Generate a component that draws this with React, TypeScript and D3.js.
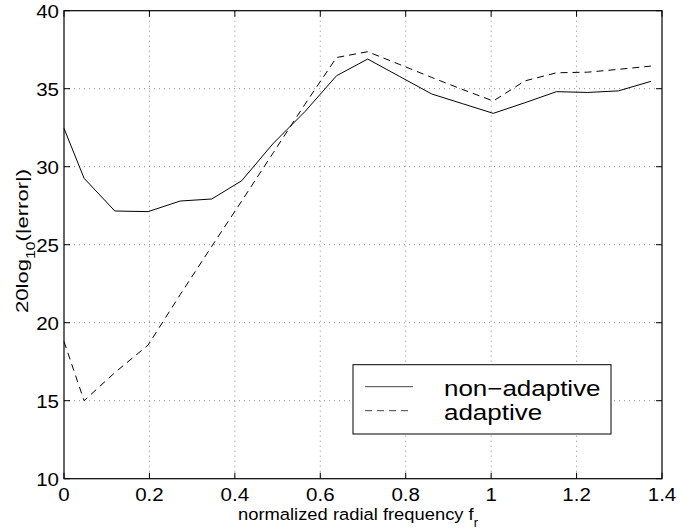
import React from "react";
import * as d3 from "d3";

const freqs = [0, 0.047, 0.119, 0.197, 0.272, 0.346, 0.416, 0.49, 0.564, 0.638, 0.711, 0.786, 0.861, 0.933, 1.005, 1.079, 1.153, 1.226, 1.298, 1.374];
const nonAdaptive = [32.46, 29.26, 27.16, 27.12, 27.8, 27.93, 29.1, 31.5, 33.53, 35.83, 36.9, 35.78, 34.66, 34.04, 33.42, 34.1, 34.81, 34.76, 34.86, 35.47];
const adaptive = [18.8, 15.0, 16.8, 18.57, 21.8, 24.9, 27.8, 30.9, 34.0, 37.0, 37.37, 36.55, 35.72, 34.95, 34.21, 35.5, 36.02, 36.06, 36.24, 36.45];
const xTicks = [0, 0.2, 0.4, 0.6, 0.8, 1, 1.2, 1.4];
const yTicks = [10, 15, 20, 25, 30, 35, 40];
const seriesNames = ["non\u2212adaptive", "adaptive"];

const W = 696, H = 529;
const L = 64, R = 662, T = 10.7, B = 478.7;
const FONT = "'Liberation Sans', Arial, Helvetica, sans-serif";
const SX = 1.08;

export default function App() {
  const x = d3.scaleLinear().domain([0, 1.4]).range([L, R]);
  const y = d3.scaleLinear().domain([10, 40]).range([B, T]);
  const line = d3.line<number>().x((_, i) => x(freqs[i])).y((d) => y(d));
  const tick = 6;
  const gridColor = "#8a8a8a";

  return (
    <svg width={W} height={H} style={{ position: "absolute", left: 0, top: 0, background: "#fff" }} fontFamily={FONT}>
      <rect x={0} y={0} width={W} height={H} fill="#fff" />
      {/* grid */}
      {xTicks.slice(1, -1).map((t) => (
        <line key={"gx" + t} x1={x(t)} x2={x(t)} y1={T} y2={B} stroke={gridColor} strokeWidth={1} strokeDasharray="1,4" />
      ))}
      {yTicks.slice(1, -1).map((t) => (
        <line key={"gy" + t} x1={L} x2={R} y1={y(t)} y2={y(t)} stroke={gridColor} strokeWidth={1} strokeDasharray="1,4" />
      ))}
      {/* data */}
      <path d={line(nonAdaptive) || ""} fill="none" stroke="#000" strokeWidth={1} />
      <path d={line(adaptive) || ""} fill="none" stroke="#000" strokeWidth={1} strokeDasharray="7,5" />
      {/* box */}
      <rect x={L} y={T} width={R - L} height={B - T} fill="none" stroke="#000" strokeWidth={1.2} />
      {/* ticks */}
      {xTicks.map((t) => (
        <g key={"tx" + t}>
          <line x1={x(t)} x2={x(t)} y1={B} y2={B - tick} stroke="#000" />
          <line x1={x(t)} x2={x(t)} y1={T} y2={T + tick} stroke="#000" />
          <text transform={`translate(${x(t)},${500.5}) scale(${SX},1)`} textAnchor="middle" fontSize={19} fill="#000">
            {String(t)}
          </text>
        </g>
      ))}
      {yTicks.map((t) => (
        <g key={"ty" + t}>
          <line x1={L} x2={L + tick} y1={y(t)} y2={y(t)} stroke="#000" />
          <line x1={R} x2={R - tick} y1={y(t)} y2={y(t)} stroke="#000" />
          <text transform={`translate(${59},${y(t) + 7}) scale(${SX},1)`} textAnchor="end" fontSize={19} fill="#000">
            {String(t)}
          </text>
        </g>
      ))}
      {/* x label */}
      <text transform={`translate(${(L + R) / 2 - 5},${520}) scale(${SX},1)`} textAnchor="middle" fontSize={17} fill="#000">
        normalized radial frequency f
        <tspan fontSize={12} dy={7}>r</tspan>
      </text>
      {/* y label */}
      <g transform="translate(28,313) rotate(-90) scale(1.3,1)">
        <text x={0} y={0} fontSize={17} fill="#000">
          20log
          <tspan fontSize={12} dy={7}>10</tspan>
          <tspan dy={-7} fontSize={17}>(|error|)</tspan>
        </text>
      </g>
      {/* legend */}
      <rect x={353} y={364.7} width={258} height={69.3} fill="#fff" stroke="#000" strokeWidth={1} />
      <line x1={365} x2={413} y1={386.7} y2={386.7} stroke="#444" strokeWidth={1} />
      <line x1={365} x2={413} y1={410.7} y2={410.7} stroke="#444" strokeWidth={1} strokeDasharray="7,5" />
      <text transform={`translate(444,396) scale(1.18,1)`} fontSize={22} fill="#000">{seriesNames[0]}</text>
      <text transform={`translate(444,420) scale(1.18,1)`} fontSize={22} fill="#000">{seriesNames[1]}</text>
    </svg>
  );
}
